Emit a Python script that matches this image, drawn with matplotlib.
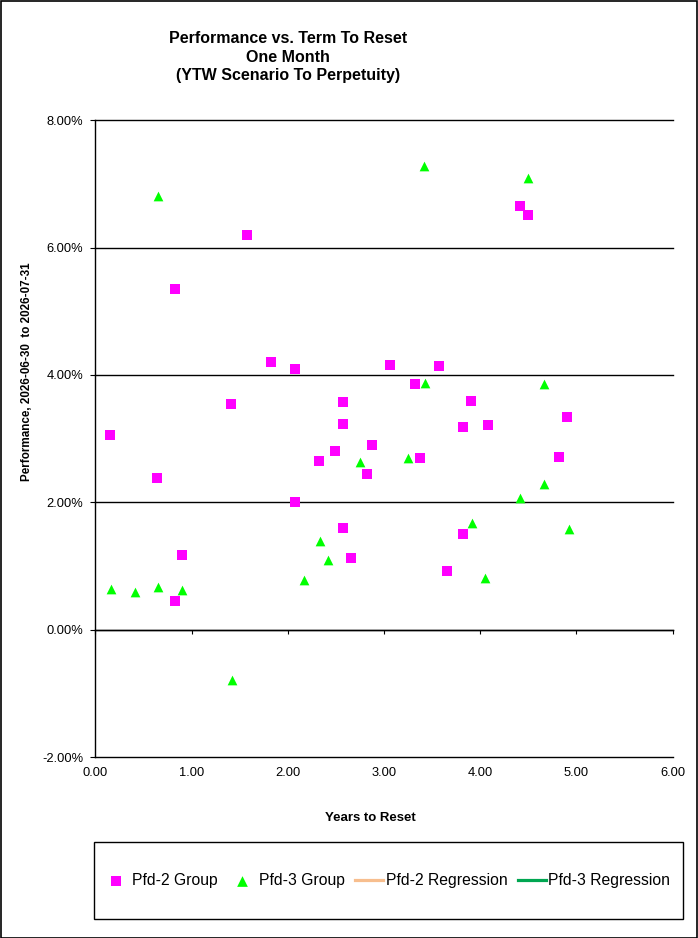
import matplotlib
matplotlib.use('Agg')
import matplotlib.pyplot as plt
from matplotlib.patches import Rectangle

plt.rcParams['font.family'] = ['Liberation Sans', 'DejaVu Sans']

# ---------------- data ----------------
pfd2_x = [0.156, 0.646, 0.823, 0.823, 0.896, 1.573, 1.406, 1.823, 2.07, 2.073,
          2.323, 2.49, 2.573, 2.573, 2.573, 2.656, 2.823, 2.875, 3.06, 3.32,
          3.375, 3.57, 3.656, 3.823, 3.823, 3.906, 4.083, 4.41, 4.50, 4.823, 4.906]
pfd2_y = [3.06, 2.38, 5.35, 0.45, 1.17, 6.20, 3.54, 4.20, 4.10, 2.005,
          2.65, 2.805, 3.575, 3.23, 1.60, 1.125, 2.44, 2.90, 4.155, 3.86,
          2.69, 4.14, 0.92, 3.18, 1.50, 3.59, 3.21, 6.65, 6.51, 2.71, 3.34]

pfd3_x = [0.167, 0.417, 0.656, 0.656, 0.906, 1.42, 2.17, 2.33, 2.42, 2.75,
          3.25, 3.42, 3.43, 3.917, 4.046, 4.417, 4.50, 4.66, 4.66, 4.92]
pfd3_y = [0.64, 0.585, 0.67, 6.81, 0.617, -0.795, 0.775, 1.40, 1.10, 2.63,
          2.69, 7.29, 3.88, 1.67, 0.805, 2.06, 7.09, 3.86, 2.28, 1.575]

x_ticks = [0, 1, 2, 3, 4, 5, 6]
x_tick_labels = ['0.00', '1.00', '2.00', '3.00', '4.00', '5.00', '6.00']
y_ticks = [-2, 0, 2, 4, 6, 8]
y_tick_labels = ['-2.00%', '0.00%', '2.00%', '4.00%', '6.00%', '8.00%']

title_lines = ['Performance vs. Term To Reset', 'One Month', '(YTW Scenario To Perpetuity)']
x_label = 'Years to Reset'
y_label = 'Performance, 2026-06-30  to 2026-07-31'
series_labels = ['Pfd-2 Group', 'Pfd-3 Group', 'Pfd-2 Regression', 'Pfd-3 Regression']

# ---------------- figure ----------------
W, H = 698, 938
fig = plt.figure(figsize=(W / 100, H / 100), dpi=100)
fig.patch.set_facecolor('white')

L, R, T, B = 95.3, 672.7, 120.3, 757.0
ax = fig.add_axes([L / W, 1 - B / H, (R - L) / W, (B - T) / H])
ax.set_xlim(0, 6)
ax.set_ylim(-2, 8)
for s in ['top', 'right', 'bottom']:
    ax.spines[s].set_visible(False)
ax.spines['left'].set_color('black')
ax.spines['left'].set_linewidth(1.0)

ax.set_yticks(y_ticks)
ax.set_yticklabels(y_tick_labels)
ax.yaxis.grid(True, color='black', linewidth=1.0)
ax.set_axisbelow(True)
ax.tick_params(axis='y', direction='out', length=3.6, width=0.8, labelsize=9.3, pad=5, colors='black')

ax.set_xticks(x_ticks)
ax.set_xticklabels(x_tick_labels)
ax.tick_params(axis='x', length=0, labelsize=9.3, pad=7.5, colors='black')

# x-axis line with ticks at y = 0
sec = ax.secondary_xaxis(0.2)
sec.set_xticks(x_ticks)
sec.tick_params(axis='x', direction='out', length=3.2, width=0.8, labelbottom=False, colors='black')
sec.spines['bottom'].set_color('black')
sec.spines['bottom'].set_linewidth(1.0)

h1 = ax.scatter(pfd2_x, pfd2_y, marker='s', s=6.6 ** 2, color='#FF00FF', linewidths=0,
                label=series_labels[0], zorder=3, clip_on=False)
h2 = ax.scatter(pfd3_x, pfd3_y, marker='^', s=7.0 ** 2, color='#00FF00', linewidths=0,
                label=series_labels[1], zorder=3, clip_on=False)
h3, = ax.plot([], [], color='#F7BE8E', linewidth=2.3, label=series_labels[2])
h4, = ax.plot([], [], color='#00A651', linewidth=2.3, label=series_labels[3])

# titles and labels
for txt, yb in zip(title_lines, [43.3, 61.7, 80.0]):
    fig.text(288 / W, 1 - yb / H, txt, ha='center', va='baseline',
             fontsize=11.5, fontweight='bold', color='black')
fig.text(370.5 / W, 1 - 820.7 / H, x_label, ha='center', va='baseline',
         fontsize=9.5, fontweight='bold', color='black')
fig.text(27 / W, 1 - 371.5 / H, y_label, ha='center', va='center', rotation=90,
         fontsize=8.4, fontweight='bold', color='black')

# legend
fig.patches.append(Rectangle((94 / W, 1 - 919 / H), (683 - 94) / W, (919 - 842) / H,
                             transform=fig.transFigure, facecolor='none',
                             edgecolor='black', linewidth=1.0))
fig.legend([h1, h2, h3, h4], series_labels, loc='center',
           bbox_to_anchor=(386 / W, 1 - 880.5 / H), ncol=4, frameon=False,
           fontsize=11.3, handlelength=1.8, handletextpad=0.15, columnspacing=0.65,
           borderaxespad=0, borderpad=0, markerscale=1.1)

# outer border
fig.patches.append(Rectangle((0.5 / W, 0.5 / H), (W - 1.5) / W, (H - 1.5) / H,
                             transform=fig.transFigure, facecolor='none',
                             edgecolor='black', linewidth=1.2))

fig.canvas.draw()
for gl in ax.get_ygridlines():
    gl.set_clip_on(False)

fig.savefig('out.png', dpi=100)
